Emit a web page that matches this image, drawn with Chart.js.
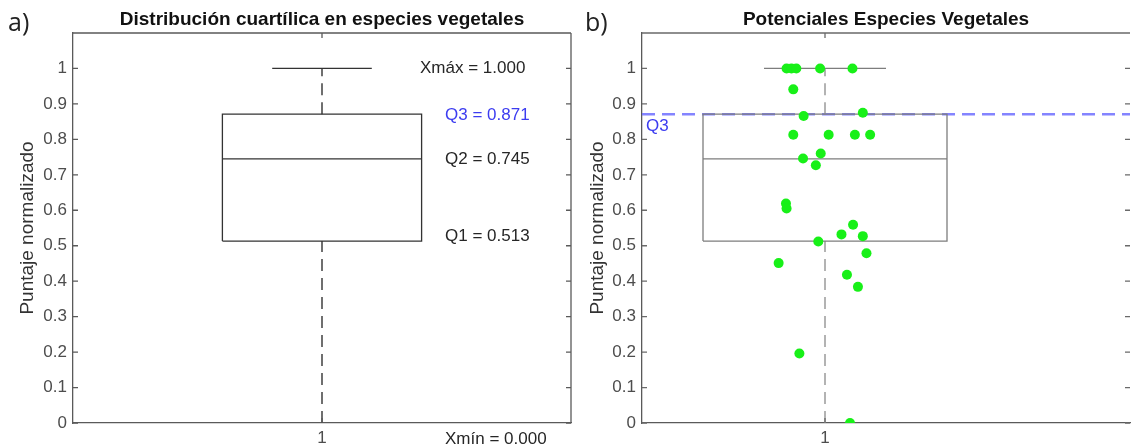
<!DOCTYPE html>
<html>
<head>
<meta charset="utf-8">
<script src="https://cdn.jsdelivr.net/npm/chart.js@4.4.1/dist/chart.umd.min.js"></script>
<style>
  html, body { margin: 0; padding: 0; background: #fff; }
  #wrapA { position: absolute; left: 0; top: 0; width: 575px; height: 447px; }
  #wrapB { position: absolute; left: 575px; top: 0; width: 560px; height: 447px; }
</style>
</head>
<body>
<div id="wrapA"><canvas id="chartA"></canvas></div>
<div id="wrapB"><canvas id="chartB"></canvas></div>
<script>
// Estadisticos del diagrama de caja
var statNames = ['Xmín', 'Q1', 'Q2', 'Q3', 'Xmáx'];
var statValues = [0.000, 0.513, 0.745, 0.871, 1.000];

// Puntajes de cada especie (b) y su desplazamiento horizontal (jitter)
var speciesX = [0.937, 0.945, 0.953, 0.992, 1.045, 0.948, 1.062, 0.965, 0.948, 1.006,
                1.049, 1.074, 0.993, 0.964, 0.985, 0.936, 0.937, 1.046, 1.027, 1.062,
                0.989, 1.068, 0.924, 1.036, 1.054, 0.958, 1.041];
var speciesScore = [1.000, 1.000, 1.000, 1.000, 1.000, 0.941, 0.875, 0.866, 0.813, 0.813,
                    0.813, 0.813, 0.760, 0.746, 0.727, 0.619, 0.605, 0.559, 0.532, 0.527,
                    0.512, 0.479, 0.451, 0.418, 0.384, 0.196, 0.000];

// Etiquetas de los ejes
var xTickLabels = ['1'];
var yTickValues = [0, 0.1, 0.2, 0.3, 0.4, 0.5, 0.6, 0.7, 0.8, 0.9, 1];
var yTickLabels = ['0', '0.1', '0.2', '0.3', '0.4', '0.5', '0.6', '0.7', '0.8', '0.9', '1'];

var SANS = '"Liberation Sans", Arial, sans-serif';
var xmin = statValues[0], q1 = statValues[1], q2 = statValues[2], q3 = statValues[3], xmax = statValues[4];

// lineas de la caja (caja 0.8-1.2, tope 0.9-1.1)
function boxDatasets(lineColor, dashColor) {
  var solid = { showLine: true, pointRadius: 0, borderColor: lineColor, borderWidth: 1.3, fill: false };
  var dashed = { showLine: true, pointRadius: 0, borderColor: dashColor, borderWidth: 1.5, borderDash: [12, 7], fill: false };
  return [
    Object.assign({ data: [{x: 0.8, y: q1}, {x: 1.2, y: q1}, {x: 1.2, y: q3}, {x: 0.8, y: q3}, {x: 0.8, y: q1}] }, solid),
    Object.assign({ data: [{x: 0.8, y: q2}, {x: 1.2, y: q2}] }, solid),
    Object.assign({ data: [{x: 0.9, y: xmax}, {x: 1.1, y: xmax}] }, solid),
    Object.assign({ data: [{x: 1, y: q3}, {x: 1, y: xmax}] }, dashed),
    Object.assign({ data: [{x: 1, y: xmin}, {x: 1, y: q1}] }, dashed)
  ];
}

// marco, marcas interiores y textos
var decoPlugin = {
  id: 'deco',
  afterDraw: function (chart, args, o) {
    var ctx = chart.ctx, a = chart.chartArea;
    var xs = chart.scales.x, ys = chart.scales.y;
    ctx.save();
    ctx.strokeStyle = o.frameColor;
    ctx.lineWidth = 1.3;
    ctx.beginPath();
    ctx.moveTo(a.left, a.top); ctx.lineTo(a.right, a.top);
    if (o.rightBorder) { ctx.moveTo(a.right, a.top); ctx.lineTo(a.right, a.bottom); }
    yTickValues.forEach(function (v) {
      var py = ys.getPixelForValue(v);
      ctx.moveTo(a.left, py); ctx.lineTo(a.left + 5, py);
      ctx.moveTo(a.right, py); ctx.lineTo(a.right - 5, py);
    });
    var px = xs.getPixelForValue(1);
    ctx.moveTo(px, a.top); ctx.lineTo(px, a.top + 5);
    ctx.moveTo(px, a.bottom); ctx.lineTo(px, a.bottom - 5);
    ctx.stroke();

    ctx.fillStyle = '#111';
    ctx.font = 'bold 19px ' + SANS;
    ctx.textAlign = 'center';
    ctx.textBaseline = 'alphabetic';
    ctx.fillText(o.title, (a.left + a.right) / 2, 25);

    ctx.fillStyle = '#222';
    ctx.font = '25px "Open Sans", "Noto Sans", sans-serif';
    ctx.textAlign = 'left';
    ctx.fillText(o.letter, o.letterX, 31);

    ctx.textBaseline = 'middle';
    (o.notes || []).forEach(function (n) {
      ctx.fillStyle = n.color;
      ctx.font = '17px ' + SANS;
      ctx.fillText(n.text, n.x, ys.getPixelForValue(n.value) + n.dy);
    });
    ctx.restore();
  }
};

function axesOptions(yWidth, titlePad) {
  return {
    x: {
      type: 'linear', min: 0.5, max: 1.5,
      afterBuildTicks: function (s) { s.ticks = [{ value: 1 }]; },
      afterFit: function (s) { s.height = 24; },
      ticks: { callback: function () { return xTickLabels[0]; }, font: { family: SANS, size: 17 }, color: '#4d4d4d', padding: 5, maxRotation: 0 },
      grid: { display: false, drawTicks: false },
      border: { display: true, color: '#5a5a5a', width: 1.3 }
    },
    y: {
      min: 0, max: 1.1,
      afterBuildTicks: function (s) { s.ticks = yTickValues.map(function (v) { return { value: v }; }); },
      afterFit: function (s) { s.width = yWidth; },
      ticks: { callback: function (v, i) { return yTickLabels[i]; }, font: { family: SANS, size: 17 }, color: '#4d4d4d', padding: 6 },
      grid: { display: false, drawTicks: false },
      border: { display: true, color: '#5a5a5a', width: 1.3 },
      title: { display: true, text: 'Puntaje normalizado', font: { family: SANS, size: 19 }, color: '#333', padding: { top: titlePad, bottom: 0 } }
    }
  };
}

// a) Distribucion cuartilica
var optsA = {
  responsive: true, maintainAspectRatio: false, animation: false,
  layout: { padding: { top: 33, right: 4, left: 0, bottom: 0 } },
  plugins: {
    legend: { display: false }, tooltip: { enabled: false },
    deco: {
      title: 'Distribución cuartílica en especies vegetales', letter: 'a)', letterX: 8,
      frameColor: '#5a5a5a', rightBorder: true,
      notes: [
        { text: statNames[4] + ' = ' + xmax.toFixed(3), value: xmax, x: 420, dy: 0, color: '#262626' },
        { text: statNames[3] + ' = ' + q3.toFixed(3), value: q3, x: 445, dy: 1, color: '#3c3cf0' },
        { text: statNames[2] + ' = ' + q2.toFixed(3), value: q2, x: 445, dy: 0, color: '#262626' },
        { text: statNames[1] + ' = ' + q1.toFixed(3), value: q1, x: 445, dy: -5, color: '#262626' },
        { text: statNames[0] + ' = ' + xmin.toFixed(3), value: xmin, x: 445, dy: 16, color: '#262626' }
      ]
    }
  },
  scales: axesOptions(73, 16)
};
new Chart(document.getElementById('chartA'), {
  type: 'scatter',
  data: { datasets: boxDatasets('#333', '#404040') },
  options: optsA,
  plugins: [decoPlugin]
});

// b) Potenciales especies vegetales
var points = speciesX.map(function (x, i) { return { x: x, y: speciesScore[i] }; });
var optsB = {
  responsive: true, maintainAspectRatio: false, animation: false,
  layout: { padding: { top: 33, right: 2, left: 0, bottom: 0 } },
  plugins: {
    legend: { display: false }, tooltip: { enabled: false },
    deco: {
      title: 'Potenciales Especies Vegetales', letter: 'b)', letterX: 10,
      frameColor: '#6a6a6a', rightBorder: false,
      notes: [{ text: 'Q3', value: q3, x: 71, dy: 12, color: '#3c3cf0' }]
    }
  },
  scales: axesOptions(67, 11.6)
};
optsB.scales.x.min = 0.7;
new Chart(document.getElementById('chartB'), {
  type: 'scatter',
  data: {
    datasets: [
      { data: points, pointRadius: 5, pointBackgroundColor: 'rgb(24,240,24)', pointBorderWidth: 0, showLine: false }
    ].concat(boxDatasets('#7d7d7d', '#9a9a9a')).concat([
      { data: [{ x: 0.7, y: q3 }, { x: 1.5, y: q3 }], showLine: true, pointRadius: 0, borderColor: 'rgba(110,110,255,0.85)', borderWidth: 2.5, borderDash: [13, 7] }
    ])
  },
  options: optsB,
  plugins: [decoPlugin]
});
</script>
</body>
</html>
